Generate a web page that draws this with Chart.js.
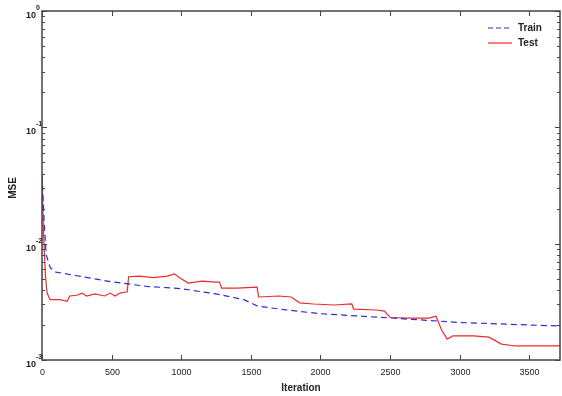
<!DOCTYPE html>
<html>
<head>
<meta charset="utf-8">
<script src="https://cdn.jsdelivr.net/npm/chart.js@4.4.0/dist/chart.umd.min.js"></script>
<style>
  html, body { margin: 0; padding: 0; background: #fff; }
  #wrap { width: 562px; height: 396px; }
</style>
</head>
<body>
<div id="wrap"><canvas id="chart" width="562" height="396"></canvas></div>
<script>
const seriesNames = ['Train', 'Test'];

const trainIter = [0, 15, 30, 60, 100, 250, 500, 750, 1000, 1250, 1450, 1550, 1750, 2000, 2500, 3000, 3500, 3720];
const trainMse = [0.039, 0.016, 0.0080, 0.0062, 0.0057, 0.0053, 0.0047, 0.0043, 0.0041, 0.0037, 0.0033, 0.0029, 0.0027, 0.0025, 0.0023, 0.0021, 0.0020, 0.00196];

const testIter = [0, 10, 25, 36, 57, 130, 180, 200, 250, 290, 320, 380, 450, 490, 525, 560, 600, 612,
  622, 700, 800, 900, 950, 1000, 1050, 1150, 1250, 1275, 1290, 1400, 1545, 1556, 1700, 1790, 1850, 1950,
  2100, 2225, 2238, 2400, 2460, 2500, 2650, 2780, 2830, 2870, 2910, 2950, 3100, 3210, 3300, 3400, 3720];
const testMse = [0.039, 0.0131, 0.0053, 0.0038, 0.0033, 0.0033, 0.0032, 0.00355, 0.0036, 0.00376, 0.00355, 0.0037, 0.00355, 0.00376, 0.00355, 0.00376, 0.00384, 0.00384,
  0.0052, 0.00526, 0.0051, 0.00526, 0.0055, 0.005, 0.00458, 0.00477, 0.00468, 0.00468, 0.00415, 0.00415, 0.00423, 0.00348, 0.00355, 0.00348, 0.0031, 0.00303,
  0.00297, 0.00303, 0.00274, 0.00269, 0.00263, 0.00232, 0.00229, 0.00229, 0.00238, 0.00181, 0.00151, 0.00161, 0.00161, 0.00157, 0.00137, 0.00132, 0.00132];

const xTicks = [0, 500, 1000, 1500, 2000, 2500, 3000, 3500];
const yTickExps = [-3, -2, -1, 0];
const xMax = 3720;

const colors = ['#2b2bdc', '#ee2a2a'];
const FONT = '"Liberation Sans", Arial, sans-serif';

function toPoints(xs, ys) {
  return xs.map((x, i) => ({ x: x, y: ys[i] }));
}

// frame, inward ticks, labels and legend in MATLAB style
const matlabAxes = {
  id: 'matlabAxes',
  afterDraw(chart) {
    const ctx = chart.ctx;
    const a = chart.chartArea;
    const xs = chart.scales.x;
    const ys = chart.scales.y;
    ctx.save();
    ctx.strokeStyle = '#444';
    ctx.lineWidth = 1.5;
    ctx.strokeRect(a.left, a.top, a.right - a.left, a.bottom - a.top);

    ctx.lineWidth = 1;
    ctx.fillStyle = '#222';
    ctx.font = '9px ' + FONT;
    ctx.textAlign = 'center';
    ctx.textBaseline = 'middle';
    xTicks.forEach(v => {
      const px = Math.round(xs.getPixelForValue(v)) + 0.5;
      ctx.beginPath();
      ctx.moveTo(px, a.bottom); ctx.lineTo(px, a.bottom - 5);
      ctx.moveTo(px, a.top); ctx.lineTo(px, a.top + 5);
      ctx.stroke();
      ctx.fillText(String(v), px, a.bottom + 13);
    });

    yTickExps.forEach(e => {
      const py = Math.round(ys.getPixelForValue(Math.pow(10, e))) + 0.5;
      ctx.beginPath();
      ctx.moveTo(a.left, py); ctx.lineTo(a.left + 5, py);
      ctx.moveTo(a.right, py); ctx.lineTo(a.right - 5, py);
      ctx.stroke();
      if (e < 0) {
        for (let m = 2; m <= 9; m++) {
          const my = Math.round(ys.getPixelForValue(m * Math.pow(10, e))) + 0.5;
          ctx.beginPath();
          ctx.moveTo(a.left, my); ctx.lineTo(a.left + 3, my);
          ctx.moveTo(a.right, my); ctx.lineTo(a.right - 3, my);
          ctx.stroke();
        }
      }
      ctx.font = 'bold 9px ' + FONT;
      ctx.textAlign = 'right';
      ctx.fillText('10', a.left - 6, py + 4);
      ctx.font = 'bold 7px ' + FONT;
      ctx.textAlign = 'left';
      ctx.fillText(String(e), a.left - 6, py - 3);
    });

    ctx.font = 'bold 10px ' + FONT;
    ctx.textAlign = 'center';
    ctx.fillText('Iteration', (a.left + a.right) / 2, 388);
    ctx.save();
    ctx.translate(13, 188);
    ctx.rotate(-Math.PI / 2);
    ctx.fillText('MSE', 0, 0);
    ctx.restore();

    // legend
    ctx.font = 'bold 10px ' + FONT;
    ctx.textAlign = 'left';
    seriesNames.forEach((name, i) => {
      const ly = 28 + i * 15;
      ctx.strokeStyle = colors[i];
      ctx.lineWidth = 1.2;
      ctx.setLineDash(i === 0 ? [5, 3] : []);
      ctx.beginPath();
      ctx.moveTo(488, ly); ctx.lineTo(512, ly);
      ctx.stroke();
      ctx.setLineDash([]);
      ctx.fillStyle = '#222';
      ctx.fillText(name, 518, ly);
    });
    ctx.restore();
  }
};

new Chart(document.getElementById('chart'), {
  type: 'line',
  data: {
    datasets: [
      {
        label: seriesNames[0],
        data: toPoints(trainIter, trainMse),
        borderColor: colors[0],
        borderWidth: 1.2,
        borderDash: [6, 4],
        pointRadius: 0,
        tension: 0
      },
      {
        label: seriesNames[1],
        data: toPoints(testIter, testMse),
        borderColor: colors[1],
        borderWidth: 1.2,
        pointRadius: 0,
        tension: 0
      }
    ]
  },
  options: {
    responsive: false,
    animation: false,
    layout: { padding: { left: 0, top: 11, right: 2, bottom: 0 } },
    plugins: { legend: { display: false }, tooltip: { enabled: false } },
    scales: {
      x: {
        type: 'linear',
        min: 0,
        max: xMax,
        grid: { display: false },
        border: { display: false },
        ticks: { display: false },
        afterFit: s => { s.height = 36; }
      },
      y: {
        type: 'logarithmic',
        min: 1e-3,
        max: 1,
        grid: { display: false },
        border: { display: false },
        ticks: { display: false },
        afterFit: s => { s.width = 42; }
      }
    }
  },
  plugins: [matlabAxes]
});
</script>
</body>
</html>
